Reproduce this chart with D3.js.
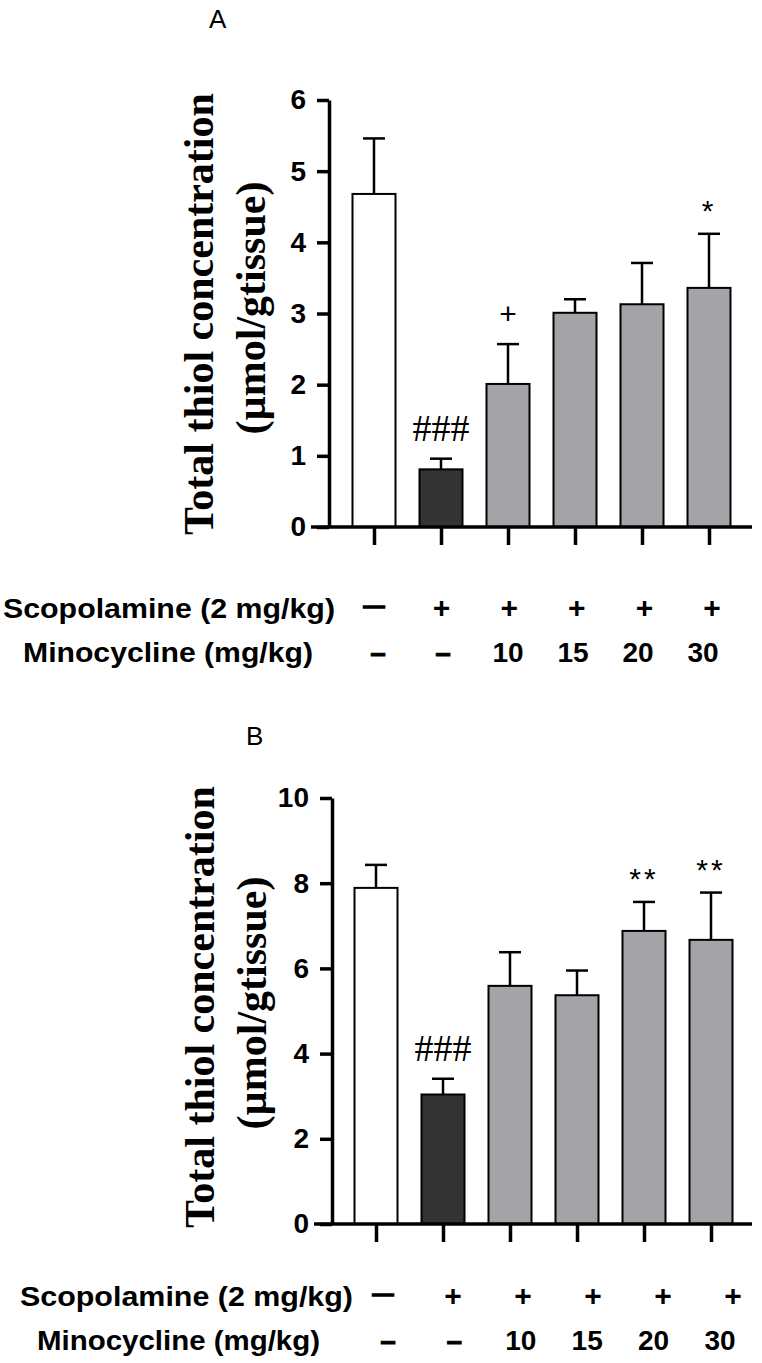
<!DOCTYPE html>
<html>
<head>
<script src="https://d3js.org/d3.v7.min.js"></script>
<style>
  body { margin: 0; background: #fff; }
</style>
</head>
<body>
<div id="chart"></div>
<script>
// groups and row labels under the bars
var groups = ["Control", "Scopolamine", "Mino10", "Mino15", "Mino20", "Mino30"];
var scopolamineRow = ["\u2014", "+", "+", "+", "+", "+"];
var minocyclineRow = ["\u2013", "\u2013", "10", "15", "20", "30"];
var barFills = ["#ffffff", "#333333", "#a3a3a8", "#a3a3a8", "#a3a3a8", "#a3a3a8"];

// panel A
var meanA = [4.68, 0.81, 2.01, 3.01, 3.13, 3.36];
var semA = [0.78, 0.15, 0.56, 0.19, 0.58, 0.76];
var marksA = ["", "###", "+", "", "", "*"];
var ticksA = [0, 1, 2, 3, 4, 5, 6];

// panel B
var meanB = [7.89, 3.04, 5.59, 5.37, 6.88, 6.67];
var semB = [0.54, 0.37, 0.79, 0.58, 0.68, 1.11];
var marksB = ["", "###", "", "", "**", "**"];
var ticksB = [0, 2, 4, 6, 8, 10];

var width = 762, height = 1363;
var sans = "'Liberation Sans', Arial, sans-serif";
var serif = "'Liberation Serif', 'Times New Roman', serif";

var svg = d3.select("#chart").append("svg")
  .attr("width", width)
  .attr("height", height);

function isDash(s) { return s === "\u2014" || s === "\u2013"; }

function drawPanel(p) {
  var g = svg.append("g");
  var y = d3.scaleLinear().domain([0, p.yMax]).range([p.y0, p.yTop]);
  var x = d3.scalePoint().domain(groups).range(p.xRange);
  var row1 = d3.scalePoint().domain(groups).range(p.row1Range);
  var row2 = d3.scalePoint().domain(groups).range(p.row2Range);
  var barW = 43;
  var data = groups.map(function(k, i) {
    return { key: k, mean: p.mean[i], sem: p.sem[i], mark: p.marks[i], fill: barFills[i] };
  });

  // bars
  g.selectAll(".bar").data(data).enter().append("rect")
    .attr("class", "bar")
    .attr("x", function(d) { return x(d.key) - barW / 2; })
    .attr("y", function(d) { return y(d.mean); })
    .attr("width", barW)
    .attr("height", function(d) { return y(0) - y(d.mean); })
    .attr("fill", function(d) { return d.fill; })
    .attr("stroke", "#000")
    .attr("stroke-width", 2);

  // error bars (upper only)
  g.selectAll(".err").data(data).enter().append("line")
    .attr("x1", function(d) { return x(d.key); })
    .attr("x2", function(d) { return x(d.key); })
    .attr("y1", function(d) { return y(d.mean); })
    .attr("y2", function(d) { return y(d.mean + d.sem); })
    .attr("stroke", "#000").attr("stroke-width", 2.5);
  g.selectAll(".cap").data(data).enter().append("line")
    .attr("x1", function(d) { return x(d.key) - 11; })
    .attr("x2", function(d) { return x(d.key) + 11; })
    .attr("y1", function(d) { return y(d.mean + d.sem); })
    .attr("y2", function(d) { return y(d.mean + d.sem); })
    .attr("stroke", "#000").attr("stroke-width", 2.5);

  // significance marks
  g.selectAll(".mark").data(data.filter(function(d) { return d.mark; })).enter().append("text")
    .attr("x", function(d) { return x(d.key); })
    .attr("y", function(d) {
      var c = d.mark[0];
      var lift = c === "#" ? 18 : (c === "+" ? 20 : 13);
      return y(d.mean + d.sem) - lift;
    })
    .attr("text-anchor", "middle")
    .attr("font-family", function(d) { return d.mark[0] === "#" ? serif : sans; })
    .attr("font-size", function(d) { return d.mark[0] === "#" ? 38 : 30; })
    .attr("letter-spacing", function(d) { return d.mark[0] === "*" ? 3 : 0; })
    .text(function(d) { return d.mark; });

  // y axis
  var ya = g.append("g")
    .attr("transform", "translate(" + p.axisX + ",0)")
    .call(d3.axisLeft(y).tickValues(p.ticks).tickFormat(d3.format("d"))
      .tickSize(12).tickSizeOuter(0).tickPadding(11));
  ya.selectAll("path, line").attr("stroke", "#000").attr("stroke-width", 3.5);
  ya.selectAll("text")
    .attr("font-family", sans).attr("font-weight", "bold").attr("font-size", 28).attr("fill", "#000");

  // x axis
  var xa = g.append("g")
    .attr("transform", "translate(0," + p.y0 + ")")
    .call(d3.axisBottom(x).tickSize(18).tickFormat(""));
  xa.select(".domain").remove();
  xa.selectAll("line").attr("stroke", "#000").attr("stroke-width", 3.5);
  g.append("line")
    .attr("x1", p.axisX - 18).attr("x2", p.xEnd)
    .attr("y1", p.y0).attr("y2", p.y0)
    .attr("stroke", "#000").attr("stroke-width", 3.5);

  // y title
  var tt = g.append("g").attr("font-family", serif).attr("font-weight", "bold")
    .attr("font-size", 42).attr("text-anchor", "middle");
  tt.append("text")
    .attr("transform", "translate(" + p.titleX[0] + "," + p.titleY[0] + ") rotate(-90)")
    .text("Total thiol concentration");
  tt.append("text")
    .attr("transform", "translate(" + p.titleX[1] + "," + p.titleY[1] + ") rotate(-90)")
    .text("(\u00b5mol/gtissue)");

  // treatment rows
  var rows = g.append("g").attr("font-family", sans).attr("font-weight", "bold").attr("font-size", 28);
  rows.append("text").attr("x", p.rowTitle1[0]).attr("y", p.row1Y)
    .attr("textLength", p.rowTitle1[1]).attr("lengthAdjust", "spacingAndGlyphs")
    .text("Scopolamine (2 mg/kg)");
  rows.append("text").attr("x", p.rowTitle2[0]).attr("y", p.row2Y)
    .attr("textLength", p.rowTitle2[1]).attr("lengthAdjust", "spacingAndGlyphs")
    .text("Minocycline (mg/kg)");
  rows.selectAll(".r1").data(groups).enter().append("text")
    .attr("x", function(d) { return row1(d); })
    .attr("y", p.row1Y)
    .attr("dy", function(d, i) { return isDash(scopolamineRow[i]) ? -6 : 0; })
    .attr("font-size", function(d, i) { return isDash(scopolamineRow[i]) ? 21 : 30; })
    .attr("stroke", function(d, i) { return isDash(scopolamineRow[i]) ? "#000" : "none"; })
    .attr("stroke-width", 1.6)
    .attr("text-anchor", "middle")
    .text(function(d, i) { return scopolamineRow[i]; });
  rows.selectAll(".r2").data(groups).enter().append("text")
    .attr("x", function(d) { return row2(d); })
    .attr("y", p.row2Y)
    .attr("stroke", function(d, i) { return isDash(minocyclineRow[i]) ? "#000" : "none"; })
    .attr("stroke-width", 0.8)
    .attr("text-anchor", "middle")
    .text(function(d, i) { return minocyclineRow[i]; });

  // panel letter
  g.append("text").attr("x", p.letter[0]).attr("y", p.letter[1])
    .attr("font-family", sans).attr("font-size", 26)
    .text(p.letter[2]);
}

drawPanel({
  mean: meanA, sem: semA, marks: marksA, ticks: ticksA, yMax: 6,
  axisX: 329, y0: 527, yTop: 100, xRange: [374, 709], xEnd: 752,
  row1Range: [374, 712], row2Range: [378, 703], row1Y: 618, row2Y: 662,
  rowTitle1: [3, 332], rowTitle2: [23, 290],
  titleX: [213, 265], titleY: [314, 308],
  letter: [209, 28, "A"]
});

drawPanel({
  mean: meanB, sem: semB, marks: marksB, ticks: ticksB, yMax: 10,
  axisX: 332, y0: 1224, yTop: 798, xRange: [376, 711], xEnd: 752,
  row1Range: [383, 733], row2Range: [388, 720], row1Y: 1306, row2Y: 1350,
  rowTitle1: [20, 333], rowTitle2: [37, 283],
  titleX: [214, 266], titleY: [1007, 1003],
  letter: [246, 745, "B"]
});
</script>
</body>
</html>
